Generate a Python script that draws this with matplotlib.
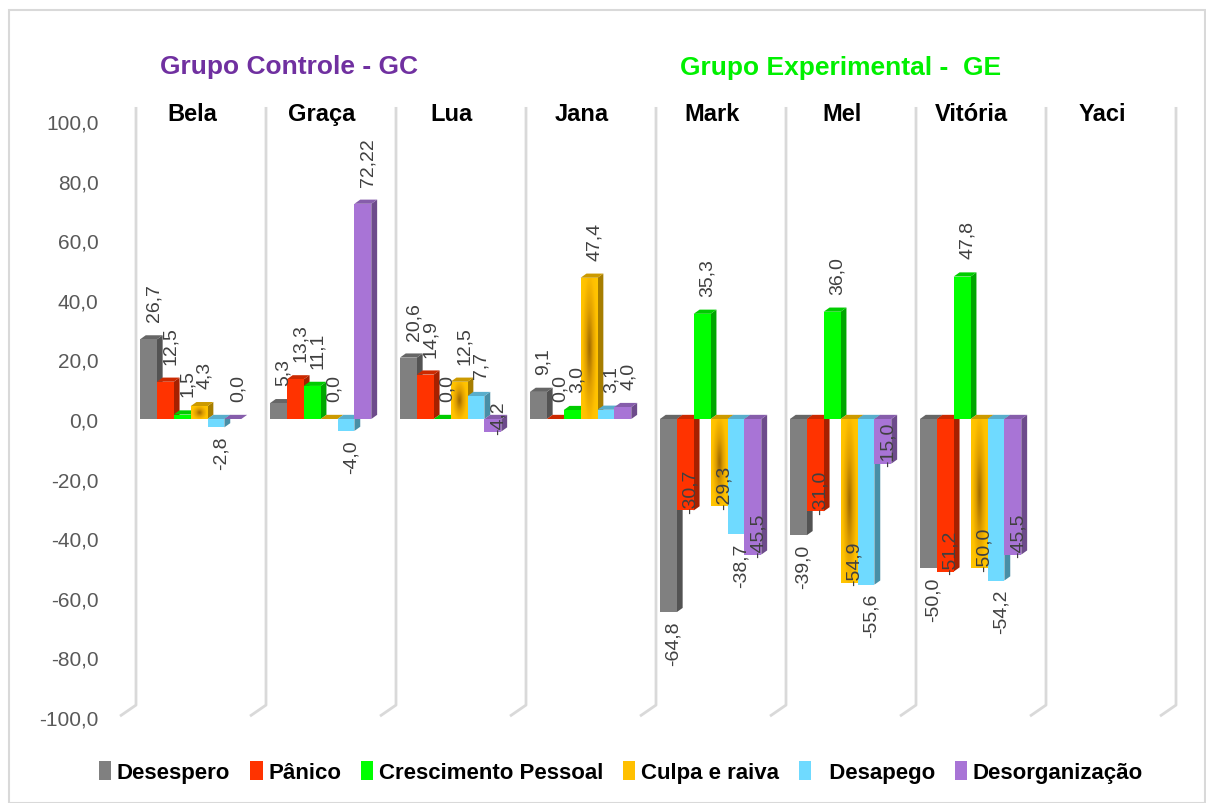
import numpy as np
import matplotlib
matplotlib.use('Agg')
import matplotlib.pyplot as plt
from matplotlib.patches import Polygon, Rectangle, Patch
from matplotlib.colors import LinearSegmentedColormap, to_rgb

# --- data -------------------------------------------------------------
people = ['Bela', 'Graça', 'Lua', 'Jana', 'Mark', 'Mel', 'Vitória', 'Yaci']
series = ['Desespero', 'Pânico', 'Crescimento Pessoal', 'Culpa e raiva',
          '  Desapego', 'Desorganização']
desespero = [26.7, 5.3, 20.6, 9.1, -64.8, -39.0, -50.0, np.nan]
panico = [12.5, 13.3, 14.9, 0.0, -30.7, -31.0, -51.2, np.nan]
crescimento = [1.5, 11.1, 0.0, 3.0, 35.3, 36.0, 47.8, np.nan]
culpa = [4.3, 0.0, 12.5, 47.4, -29.3, -54.9, -50.0, np.nan]
desapego = [-2.8, -4.0, 7.7, 3.1, -38.7, -55.6, -54.2, np.nan]
desorg = [0.0, 72.22, -4.2, 4.0, -45.5, -15.0, -45.5, np.nan]

values = [desespero, panico, crescimento, culpa, desapego, desorg]
colors = ['#808080', '#FF3300', '#00FF00', '#FFC000', '#6FDAFF', '#A874D6']
# where the label of a negative bar goes (as in the original)
neg_inside = [False, True, False, True, False, True]

plt.rcParams['font.family'] = ['Liberation Sans', 'DejaVu Sans']
narrow = ['Liberation Sans Narrow', 'Liberation Sans', 'DejaVu Sans']


def fmt(v):
    s = '{:.1f}'.format(v) if round(v, 1) == v else '{:.2f}'.format(v)
    return s.replace('.', ',')


fig = plt.figure(figsize=(12.06, 8.04), dpi=100)
fig.patches.append(Rectangle((9 / 1206, 0.0), 1196 / 1206, (804 - 11) / 804,
                             transform=fig.transFigure, fill=False,
                             edgecolor='#D9D9D9', lw=1.5))
ax = fig.add_axes([136 / 1206, (804 - 718) / 804, 1040 / 1206, 596 / 804])
ax.set_xlim(-0.5, 7.5)
ax.set_ylim(-100, 100)

# category separators with the 3D floor kink
for i in range(len(people) + 1):
    x = i - 0.5
    ax.plot([x, x, x - 0.123], [104.7, -96, -99.7], color='#D9D9D9', lw=2,
            clip_on=False, zorder=1, solid_capstyle='butt')

w = 0.13
dx, dy = 0.045, 1.4


def shade(c, f):
    r, g, b = to_rgb(c)
    return (r * f, g * f, b * f)


gold = LinearSegmentedColormap.from_list('gold', ['#A56E00', '#E0A000', '#FFC000', '#FFC800'])
yy, xx = np.mgrid[-1:1:60j, -1:1:30j]
glow = np.sqrt(xx ** 2 + (yy * 0.8) ** 2)

z = 2
for j, (vals, c) in enumerate(zip(values, colors)):
    for i, v in enumerate(vals):
        if np.isnan(v):
            continue
        x0 = i - 0.5 + 0.03 + j * w
        x1 = x0 + w
        lo, hi = min(0, v), max(0, v)
        side = Polygon([(x1, lo), (x1 + dx, lo + dy), (x1 + dx, hi + dy), (x1, hi)],
                       closed=True, facecolor=shade(c, 0.65), edgecolor='none', zorder=z)
        top = Polygon([(x0, hi), (x0 + dx, hi + dy), (x1 + dx, hi + dy), (x1, hi)],
                      closed=True, facecolor=shade(c, 0.8), edgecolor='none', zorder=z)
        ax.add_patch(side)
        ax.add_patch(top)
        front = Rectangle((x0, lo), w, hi - lo, facecolor=c, edgecolor='none', zorder=z + 0.5)
        ax.add_patch(front)
        if j == 3 and hi - lo > 0:
            im = ax.imshow(glow, cmap=gold, extent=(x0, x1, lo, hi), aspect='auto',
                           origin='lower', zorder=z + 0.6, interpolation='bilinear')
            im.set_clip_path(front)
        z += 1

        txt = fmt(v)
        xc = (x0 + x1) / 2 + dx * 0.9
        kw = dict(textcoords='offset points', rotation=90, ha='center',
                  fontsize=14, color='#404040', zorder=100)
        if v >= 0:
            ax.annotate(txt, (xc, v + dy), xytext=(0, 10), va='bottom', **kw)
        elif neg_inside[j]:
            ax.annotate(txt, (xc, v), xytext=(0, -2), va='bottom', **kw)
        else:
            ax.annotate(txt, (xc, v), xytext=(0, -6), va='top', **kw)

ax.set_xlim(-0.5, 7.5)
ax.set_ylim(-100, 100)

ticks = np.arange(-100, 101, 20)
ax.set_yticks(ticks)
ax.set_yticklabels([fmt(t) for t in ticks])
ax.tick_params(axis='y', length=0, pad=27, labelsize=15, labelcolor='#595959')
ax.set_xticks([])
for s in ax.spines.values():
    s.set_visible(False)

# names on top of each column
for i, p in enumerate(people):
    ax.text(i - 0.07, 102.5, p, ha='center', va='center', fontsize=17,
            fontweight='bold', family=narrow, color='black')

fig.text(289 / 1206, 1 - 67 / 804, 'Grupo Controle - GC', ha='center', va='center',
         fontsize=19, fontweight='bold', family=narrow, color='#7030A0')
fig.text(841 / 1206, 1 - 68 / 804, 'Grupo Experimental -  GE', ha='center', va='center',
         fontsize=19, fontweight='bold', family=narrow, color='#00F000')

handles = [Patch(facecolor=c, edgecolor='none') for c in colors]
leg = fig.legend(handles, series, loc='center', bbox_to_anchor=(0.515, 1 - 773 / 804),
                 ncol=6, frameon=False, handlelength=0.55, handleheight=0.9,
                 handletextpad=0.25, columnspacing=0.9,
                 prop={'family': narrow, 'weight': 'bold', 'size': 16})

plt.savefig('out.png', dpi=100)
